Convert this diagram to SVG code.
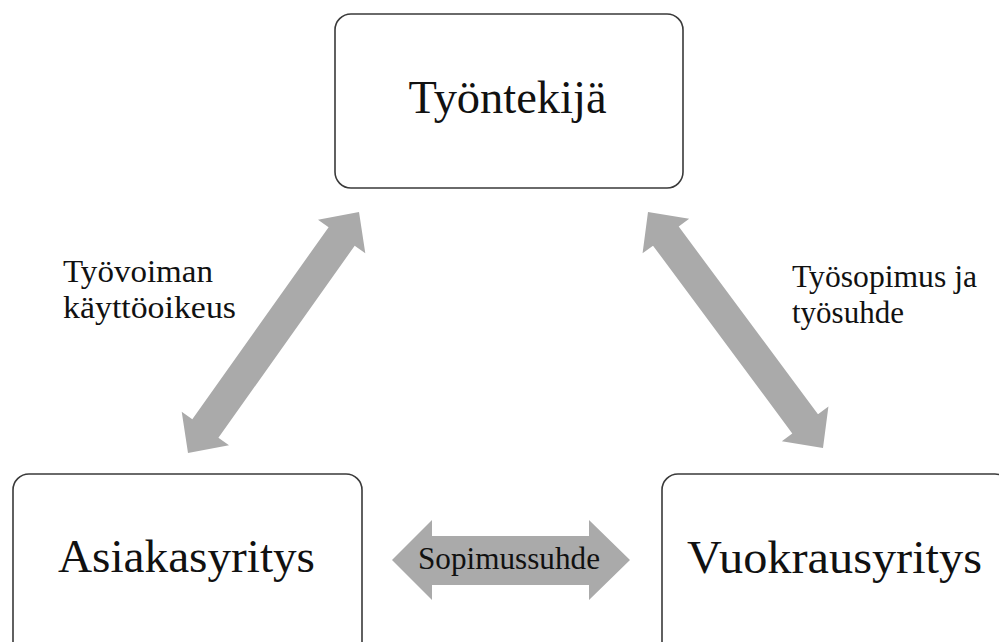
<svg xmlns="http://www.w3.org/2000/svg" width="999" height="642" viewBox="0 0 999 642">
  <style>
    .box { fill: #ffffff; stroke: #3a3a3a; stroke-width: 1.6; }
    .main { font-family: "Liberation Serif", "Times New Roman", serif; font-size: 46px; fill: #111111; }
    .lbl { font-family: "Liberation Serif", "Times New Roman", serif; font-size: 31px; fill: #111111; }
    .arrow { fill: #aaaaaa; stroke: none; }
  </style>
  <rect width="999" height="642" fill="#ffffff"/>
  <g id="connectors">
    <polygon class="arrow" transform="translate(188,453) rotate(-54.64)" points="0,0 30,-29 30,-16 265.5,-16 265.5,-29 295.5,0 265.5,29 265.5,16 30,16 30,29"/>
    <polygon class="arrow" transform="translate(648,212) rotate(53.44)" points="0,0 30,-29 30,-16 263.8,-16 263.8,-29 293.8,0 263.8,29 263.8,16 30,16 30,29"/>
    <polygon class="arrow" points="392,560 432,520 432,536 589,536 589,520 630,560 589,600 589,585 432,585 432,600"/>
    <text class="lbl" x="509" y="569" text-anchor="middle" textLength="182" lengthAdjust="spacingAndGlyphs">Sopimussuhde</text>
    <text class="lbl" x="63" y="282" textLength="150" lengthAdjust="spacingAndGlyphs">Työvoiman</text>
    <text class="lbl" x="63" y="318" textLength="173" lengthAdjust="spacingAndGlyphs">käyttöoikeus</text>
    <text class="lbl" x="792" y="287" textLength="185" lengthAdjust="spacingAndGlyphs">Työsopimus ja</text>
    <text class="lbl" x="792" y="323">työsuhde</text>
  </g>
  <g id="tyontekija">
    <rect class="box" x="335" y="14" width="348" height="174" rx="16"/>
    <text class="main" x="507.5" y="113" text-anchor="middle" textLength="198" lengthAdjust="spacingAndGlyphs">Työntekijä</text>
  </g>
  <g id="asiakasyritys">
    <rect class="box" x="13" y="474" width="349" height="190" rx="16"/>
    <text class="main" x="186.5" y="572" text-anchor="middle" textLength="257" lengthAdjust="spacingAndGlyphs">Asiakasyritys</text>
  </g>
  <g id="vuokrausyritys">
    <rect class="box" x="662" y="474" width="349" height="190" rx="16"/>
    <text class="main" x="834.5" y="573" text-anchor="middle" textLength="295" lengthAdjust="spacingAndGlyphs">Vuokrausyritys</text>
  </g>
</svg>
